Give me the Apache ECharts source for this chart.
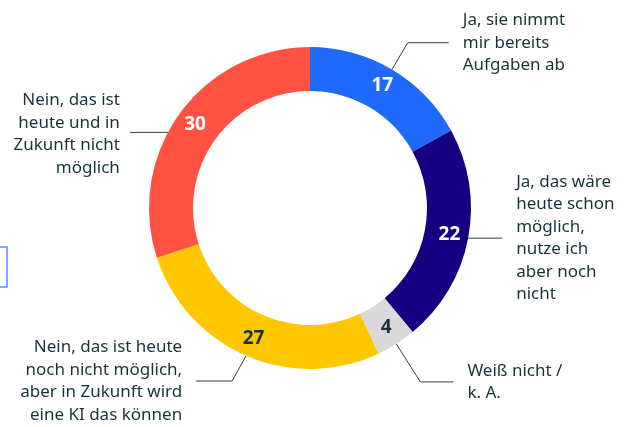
<!DOCTYPE html>
<html lang="de">
<head>
	<meta charset="UTF-8">
	<title>KI Aufgaben</title>
	<script src="https://cdn.jsdelivr.net/npm/echarts@6/dist/echarts.min.js"></script>
	<style>
		html, body { margin: 0; padding: 0; background: #fff; }
		#chart { width: 630px; height: 427px; }
	</style>
</head>
<body>
<div id="chart"></div>
<script>
	// Daten
	var categories = [
		'Ja, sie nimmt\nmir bereits\nAufgaben ab',
		'Ja, das wäre\nheute schon\nmöglich,\nnutze ich\naber noch\nnicht',
		'Weiß nicht /\nk. A.',
		'Nein, das ist heute\nnoch nicht möglich,\naber in Zukunft wird\neine KI das können',
		'Nein, das ist\nheute und in\nZukunft nicht\nmöglich'
	];
	var values = [17, 22, 4, 27, 30];
	var colors = ['#1f69ff', '#140080', '#d9d9d9', '#ffc700', '#ff5243'];
	var valueColors = ['#fff', '#fff', '#17333a', '#17333a', '#fff'];

	var CENTER = [310, 208];
	var RADIUS = [117, 161];
	var textColor = '#17333a';
	var font = '"Noto Sans", "Open Sans", sans-serif';

	// Führungslinien pro Segment: [length, length2]
	var lines = [[31, 41], [0, 34], [45, 33], [35, 36], [0, 38]];

	var chart = echarts.init(document.getElementById('chart'));

	var innerData = values.map(function (v, i) {
		return {
			value: v,
			name: categories[i],
			itemStyle: { color: colors[i] },
			label: { color: valueColors[i] }
		};
	});
	var outerData = values.map(function (v, i) {
		return {
			value: v,
			name: categories[i],
			labelLine: { length: lines[i][0], length2: lines[i][1] }
		};
	});

	var option = {
		animation: false,
		graphic: [{
			type: 'rect',
			shape: { x: -4, y: 247, width: 11, height: 40 },
			style: { fill: 'none', stroke: '#5b8cff', lineWidth: 1.5 }
		}],
		series: [
			{
				type: 'pie',
				center: CENTER,
				radius: RADIUS,
				startAngle: 90,
				clockwise: true,
				silent: true,
				label: {
					show: true,
					position: 'inside',
					formatter: '{c}',
					fontFamily: font,
					fontSize: 19,
					fontWeight: 'bold'
				},
				labelLine: { show: false },
				data: innerData
			},
			{
				type: 'pie',
				center: CENTER,
				radius: RADIUS,
				startAngle: 90,
				clockwise: true,
				silent: true,
				itemStyle: { color: 'rgba(0,0,0,0)' },
				label: {
					show: true,
					position: 'outside',
					alignTo: 'none',
					distanceToLabelLine: 14,
					formatter: '{b}',
					color: textColor,
					fontFamily: font,
					fontSize: 17,
					lineHeight: 22.5
				},
				labelLine: {
					show: true,
					smooth: false,
					lineStyle: { color: '#2b4248', width: 1 }
				},
				labelLayout: function (p) {
					// letztes Segment: horizontale Linie etwas tiefer am Ring ansetzen
					if (p.dataIndex !== 4) return {};
					var pts = p.labelLinePoints;
					var y = pts[0][1] + 19;
					var x0 = CENTER[0] - Math.sqrt(RADIUS[1] * RADIUS[1] - Math.pow(y - CENTER[1], 2));
					var x1 = x0 - lines[4][1];
					return {
						x: x1 - 10,
						y: y + 2,
						align: 'right',
						verticalAlign: 'middle',
						labelLinePoints: [[x0, y], [x0, y], [x1, y]]
					};
				},
				data: outerData
			}
		]
	};
	chart.setOption(option);
</script>
</body>
</html>
